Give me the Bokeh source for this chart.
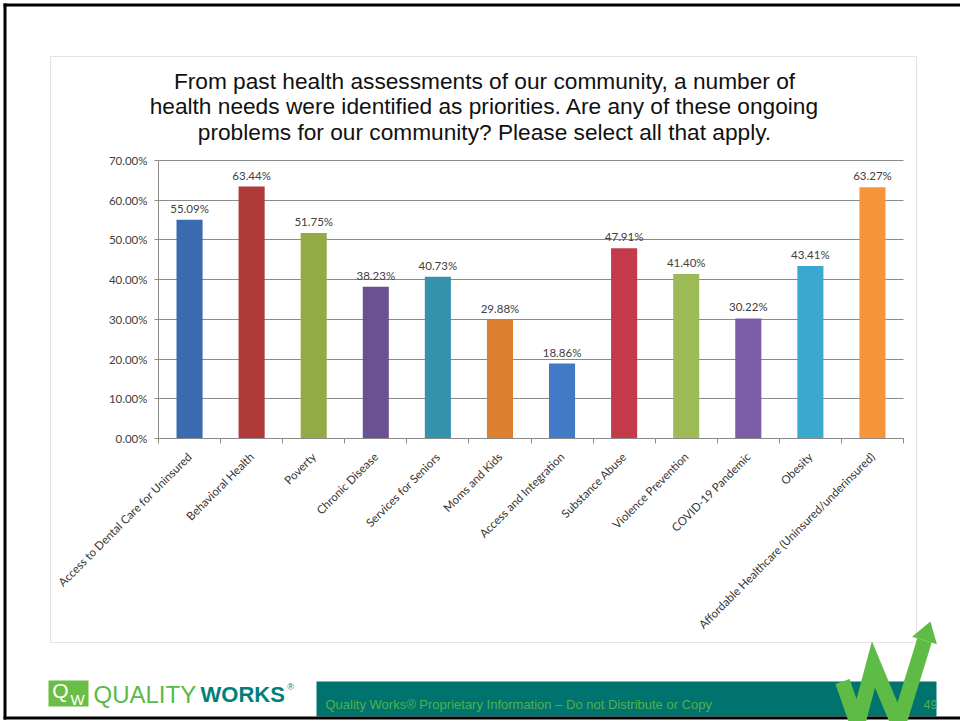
from math import pi
import numpy as np
from bokeh.plotting import figure
from bokeh.models import (Range1d, LinearAxis, FixedTicker, Grid,
                          PrintfTickFormatter, BoxAnnotation, Label, PolyAnnotation, ColumnDataSource)
from bokeh.core.properties import value
from bokeh.embed import file_html
from bokeh.resources import INLINE

# ---------------- data ----------------
categories = [
    "Access to Dental Care for Uninsured", "Behavioral Health", "Poverty", "Chronic Disease",
    "Services for Seniors", "Moms and Kids", "Access and Integration", "Substance Abuse",
    "Violence Prevention", "COVID-19 Pandemic", "Obesity",
    "Affordable Healthcare (Uninsured/underinsured)",
]
percentages = [55.09, 63.44, 51.75, 38.23, 40.73, 29.88, 18.86, 47.91, 41.40, 30.22, 43.41, 63.27]
bar_colors = ["#3A6BAF", "#B0393A", "#93AA45", "#6A5194", "#3592AD", "#DC7F2E",
              "#427AC6", "#C53A48", "#9CBA55", "#7B5CA6", "#3BA9CF", "#F6943A"]
y_ticks = [0, 10, 20, 30, 40, 50, 60, 70]
title_lines = [
    "From past health assessments of our community, a number of",
    "health needs were identified as priorities. Are any of these ongoing",
    "problems for our community? Please select all that apply.",
]
footer_text = "Quality Works\u00ae Proprietary Information \u2013 Do not Distribute or Copy"
page_number = "49"

# ---------------- layout (canvas pixels) ----------------
W, H = 960, 721
PLOT_L, PLOT_R, PLOT_T, PLOT_B = 158, 903, 160, 438
n = len(categories)
Y_MAX = y_ticks[-1]
PPX = (PLOT_R - PLOT_L) / n          # pixels per category slot
PPY = (PLOT_B - PLOT_T) / Y_MAX      # pixels per percent


def X(px):
    return (px - PLOT_L) / PPX


def Y(py):
    return (PLOT_B - py) / PPY


GRAY = "#8A8A8A"
TXT = "#404040"
slot_centers = [i + 0.5 for i in range(n)]

p = figure(width=W, height=H,
           x_range=Range1d(X(0), X(W)), y_range=Range1d(Y(H), Y(0)),
           x_axis_location=None, y_axis_location=None,
           toolbar_location=None, output_backend="svg",
           min_border=0, min_border_left=0, min_border_right=0,
           min_border_top=0, min_border_bottom=0,
           background_fill_color="white", border_fill_color="white",
           outline_line_color=None)
for g in list(p.xgrid) + list(p.ygrid):
    g.visible = False

# ---- slide decorations underneath ----
p.add_layout(BoxAnnotation(left=X(50), right=X(916), top=Y(56), bottom=Y(642),
                           fill_alpha=0, line_color="#A6A6A6", line_width=1.2, level="underlay"))

# gridlines (bounded to plot area)
gkw = dict(dimension=1, ticker=FixedTicker(ticks=y_ticks), grid_line_color=GRAY, grid_line_width=1)
if "cross_bounds" in Grid.properties():
    p.add_layout(Grid(bounds=(0, Y_MAX), cross_bounds=(0, n), **gkw))
else:
    p.segment(x0=0, x1=n, y0=y_ticks, y1=y_ticks, line_color=GRAY, line_width=1)

# y axis
yaxis = LinearAxis(ticker=FixedTicker(ticks=y_ticks), fixed_location=0, bounds=(0, Y_MAX),
                   formatter=PrintfTickFormatter(format="%.2f%%"),
                   axis_line_color=GRAY, major_tick_line_color=GRAY,
                   major_tick_out=4, major_tick_in=0, minor_tick_line_color=None,
                   major_label_standoff=7,
                   major_label_text_font="Lato", major_label_text_font_size="11.5px",
                   major_label_text_color=TXT)
p.add_layout(yaxis, "left")

# x tick marks between categories (no labels)
tick_axis = LinearAxis(ticker=FixedTicker(ticks=list(range(n + 1))), fixed_location=0,
                       bounds=(0, n),
                       major_label_overrides={i: "" for i in range(n + 1)},
                       axis_line_color=GRAY, major_tick_line_color=GRAY,
                       major_tick_out=5, major_tick_in=0, minor_tick_line_color=None,
                       major_label_standoff=0, major_label_text_font_size="1px")
p.add_layout(tick_axis, "below")

# category labels at slot centres
cat_axis = LinearAxis(ticker=FixedTicker(ticks=slot_centers), fixed_location=0, bounds=(0, n),
                      major_label_overrides={c: name for c, name in zip(slot_centers, categories)},
                      axis_line_color=None, major_tick_line_color=None,
                      minor_tick_line_color=None,
                      major_label_orientation=pi / 4, major_label_standoff=10,
                      major_label_text_font="Lato", major_label_text_font_size="11.5px",
                      major_label_text_color="#333333")
p.add_layout(cat_axis, "below")

# bars and value labels
src = ColumnDataSource(dict(x=slot_centers, val=percentages, color=bar_colors,
                            label=[f"{v:.2f}%" for v in percentages]))
p.vbar(x="x", top="val", bottom=0, width=0.42, fill_color="color", line_color=None, source=src)
p.text(x="x", y="val", text="label", source=src, text_align="center",
       text_baseline="bottom", y_offset=-5, text_font=value("Lato"),
       text_font_size="11.5px", text_color=TXT)


# ---- slide decorations on top ----
def box(l, r, t, b, color, level="overlay"):
    p.add_layout(BoxAnnotation(left=X(l), right=X(r), top=Y(t), bottom=Y(b),
                               fill_color=color, fill_alpha=1, line_color=None, level=level))


def label(x, y, text, **kw):
    kw.setdefault("level", "overlay")
    p.add_layout(Label(x=X(x), y=Y(y), text=text, **kw))


# slide border
box(3, 6, 3, 719, "black")
box(3, 960, 3, 6, "black")

# title
for i, line in enumerate(title_lines):
    label(484, 80 + i * 25.5, line, text_align="center", text_baseline="middle",
          text_font="Liberation Sans", text_font_size="22.7px", text_color="#111111")

# footer teal bar
box(316, 936, 681, 716, "#00736F")
box(3, 960, 716, 719, "black")
label(325, 704, footer_text, text_align="left", text_baseline="middle",
      text_font="Liberation Sans", text_font_size="13px", text_color="#4FB14A")

# logo
box(48, 88, 680, 706, "#6ABD45")
label(60, 690, "Q", text_align="center", text_baseline="middle", text_font="Liberation Sans",
      text_font_size="21px", text_color="white")
label(77, 699, "W", text_align="center", text_baseline="middle", text_font="Liberation Sans",
      text_font_size="15px", text_color="white")
label(93, 694, "QUALITY", text_align="left", text_baseline="middle", text_font="Liberation Sans",
      text_font_size="24px", text_color="#5BB947")
label(200, 694, "WORKS", text_align="left", text_baseline="middle", text_font="Liberation Sans",
      text_font_size="22px", text_font_style="bold", text_color="#00807A")
label(290, 686, "\u00ae", text_align="center", text_baseline="middle", text_font="Liberation Sans",
      text_font_size="9px", text_color="#00807A")


# green zig-zag "W" arrow
def stroke_outline(pts, w):
    pts = np.array(pts, float)
    h = w / 2
    dirs, nrms = [], []
    for i in range(len(pts) - 1):
        d = pts[i + 1] - pts[i]
        d = d / np.hypot(*d)
        dirs.append(d)
        nrms.append(np.array([-d[1], d[0]]))
    left, right = [], []
    for i in range(len(pts)):
        if i == 0 or i == len(pts) - 1:
            nrm = nrms[0] if i == 0 else nrms[-1]
            left.append(pts[i] + h * nrm)
            right.append(pts[i] - h * nrm)
        else:
            m = nrms[i - 1] + nrms[i]
            m = m / np.hypot(*m)
            L = h / np.dot(m, nrms[i - 1])
            left.append(pts[i] + L * m)
            right.append(pts[i] - L * m)
    return left + right[::-1], dirs[-1], nrms[-1]


w_pts = [(842, 681), (857, 724), (873, 664), (898, 724), (924, 640)]
outline, d_end, n_end = stroke_outline(w_pts, 15)
GREEN = "#5DBB46"
p.add_layout(PolyAnnotation(xs=[X(q[0]) for q in outline], ys=[Y(q[1]) for q in outline],
                            fill_color=GREEN, fill_alpha=1, line_color=None, level="overlay"))
end = np.array(w_pts[-1], float)
head = [end + 13 * n_end, end + 20 * d_end, end - 13 * n_end]
p.add_layout(PolyAnnotation(xs=[X(q[0]) for q in head], ys=[Y(q[1]) for q in head],
                            fill_color=GREEN, fill_alpha=1, line_color=None, level="overlay"))
label(930, 704, page_number, text_align="center", text_baseline="middle",
      text_font="Liberation Sans", text_font_size="12px", text_color="#4FB14A")

open("out.html", "w").write(file_html(p, INLINE))
